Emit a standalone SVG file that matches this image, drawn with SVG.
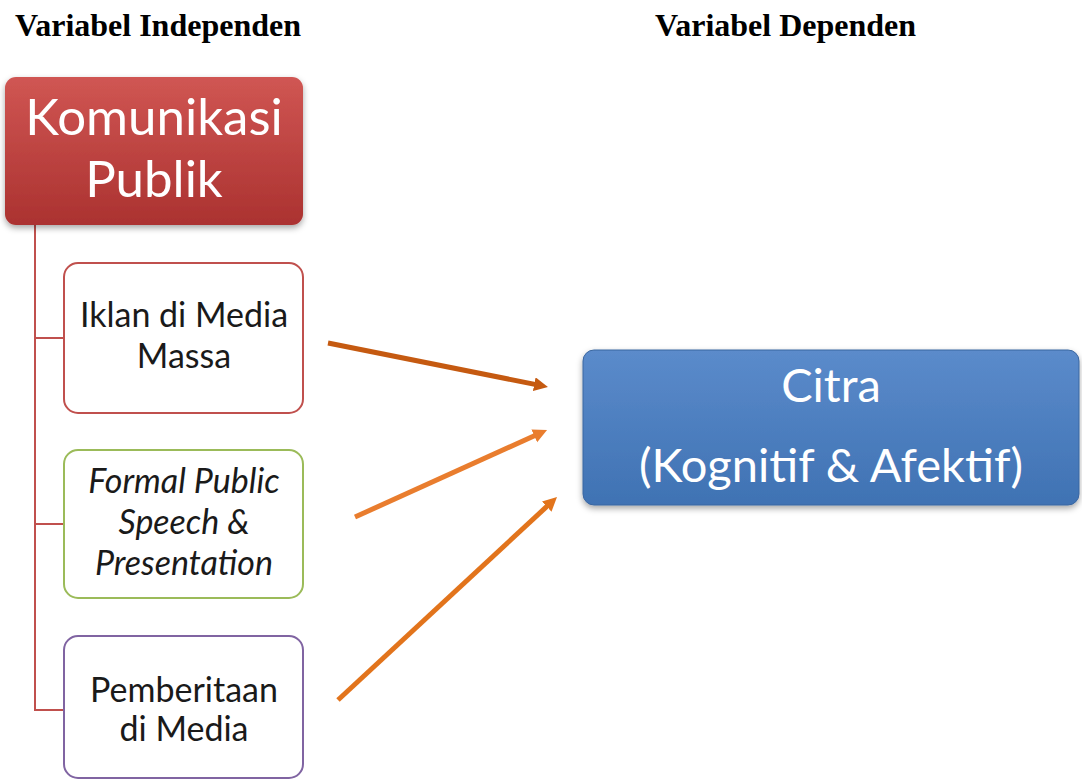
<svg xmlns="http://www.w3.org/2000/svg" width="1082" height="780" viewBox="0 0 1082 780">
<defs>
<linearGradient id="gRed" x1="0" y1="0" x2="0" y2="1">
<stop offset="0" stop-color="#d05653"/>
<stop offset="1" stop-color="#ab3230"/>
</linearGradient>
<linearGradient id="gBlue" x1="0" y1="0" x2="0" y2="1">
<stop offset="0" stop-color="#5b8bcb"/>
<stop offset="1" stop-color="#3f72b3"/>
</linearGradient>
<filter id="shadow" x="-10%" y="-10%" width="120%" height="130%">
<feDropShadow dx="0" dy="3" stdDeviation="3" flood-color="#000" flood-opacity="0.35"/>
</filter>
<marker id="ah1" markerUnits="userSpaceOnUse" markerWidth="16" markerHeight="16" refX="2" refY="7" orient="auto"><path d="M0,0 L14,7 L0,14 z" fill="#c55a11"/></marker>
<marker id="ah2" markerUnits="userSpaceOnUse" markerWidth="16" markerHeight="16" refX="2" refY="7" orient="auto"><path d="M0,0 L14,7 L0,14 z" fill="#e97d2e"/></marker>
<marker id="ah3" markerUnits="userSpaceOnUse" markerWidth="16" markerHeight="16" refX="2" refY="7" orient="auto"><path d="M0,0 L14,7 L0,14 z" fill="#e2741c"/></marker>
</defs>
<style>
.hdr{font-family:"Liberation Serif","Times New Roman",serif;font-weight:bold;font-size:32px;fill:#000}
.big{font-family:Lato,"Noto Sans",sans-serif;font-size:51px;fill:#fff;text-anchor:middle}
.cit{font-family:Lato,"Noto Sans",sans-serif;font-size:47px;fill:#fff;text-anchor:middle}
.sub{font-family:Lato,"Noto Sans",sans-serif;font-size:34px;fill:#1a1a1a;text-anchor:middle}
.it{font-style:italic}
.box{fill:#fff;stroke-width:2}
.tree{fill:none;stroke:#c0504d;stroke-width:2}
.arr{fill:none;stroke-width:5}
</style>
<rect width="1082" height="780" fill="#fff"/>
<text class="hdr" x="15" y="36">Variabel Independen</text>
<text class="hdr" x="655" y="36">Variabel Dependen</text>

<g id="tree-lines">
<path class="tree" d="M35,225 V710 H64 M35,338 H64 M35,524 H64"/>
</g>

<g id="node-komunikasi">
<rect x="5" y="77" width="298" height="148" rx="11" fill="url(#gRed)" filter="url(#shadow)"/>
<text class="big" x="154" y="135">Komunikasi</text>
<text class="big" x="154" y="197">Publik</text>
</g>

<g id="node-iklan">
<rect class="box" x="64" y="263" width="239" height="150" rx="14" stroke="#c0504d"/>
<text class="sub" x="184" y="327">Iklan di Media</text>
<text class="sub" x="184" y="368">Massa</text>
</g>

<g id="node-formal">
<rect class="box" x="64" y="450" width="239" height="148" rx="14" stroke="#9bbb59"/>
<text class="sub it" x="184" y="493">Formal Public</text>
<text class="sub it" x="184" y="534">Speech &amp;</text>
<text class="sub it" x="184" y="575">Presentation</text>
</g>

<g id="node-pemberitaan">
<rect class="box" x="64" y="636" width="239" height="142" rx="14" stroke="#8064a2"/>
<text class="sub" x="184" y="702">Pemberitaan</text>
<text class="sub" x="184" y="741">di Media</text>
</g>

<g id="node-citra">
<rect x="583" y="350" width="496" height="155" rx="11" fill="url(#gBlue)" stroke="#3a66a0" stroke-width="1" filter="url(#shadow)"/>
<text class="cit" x="831" y="402">Citra</text>
<text class="cit" x="831" y="482">(Kognitif &amp; Afektif)</text>
</g>

<g id="connectors">
<line class="arr" x1="328" y1="343" x2="536.2" y2="384.6" stroke="#c55a11" marker-end="url(#ah1)"/>
<line class="arr" x1="355" y1="517" x2="536.1" y2="435" stroke="#e97d2e" marker-end="url(#ah2)"/>
<line class="arr" x1="338" y1="700" x2="548.2" y2="505.2" stroke="#e2741c" marker-end="url(#ah3)"/>
</g>
</svg>
